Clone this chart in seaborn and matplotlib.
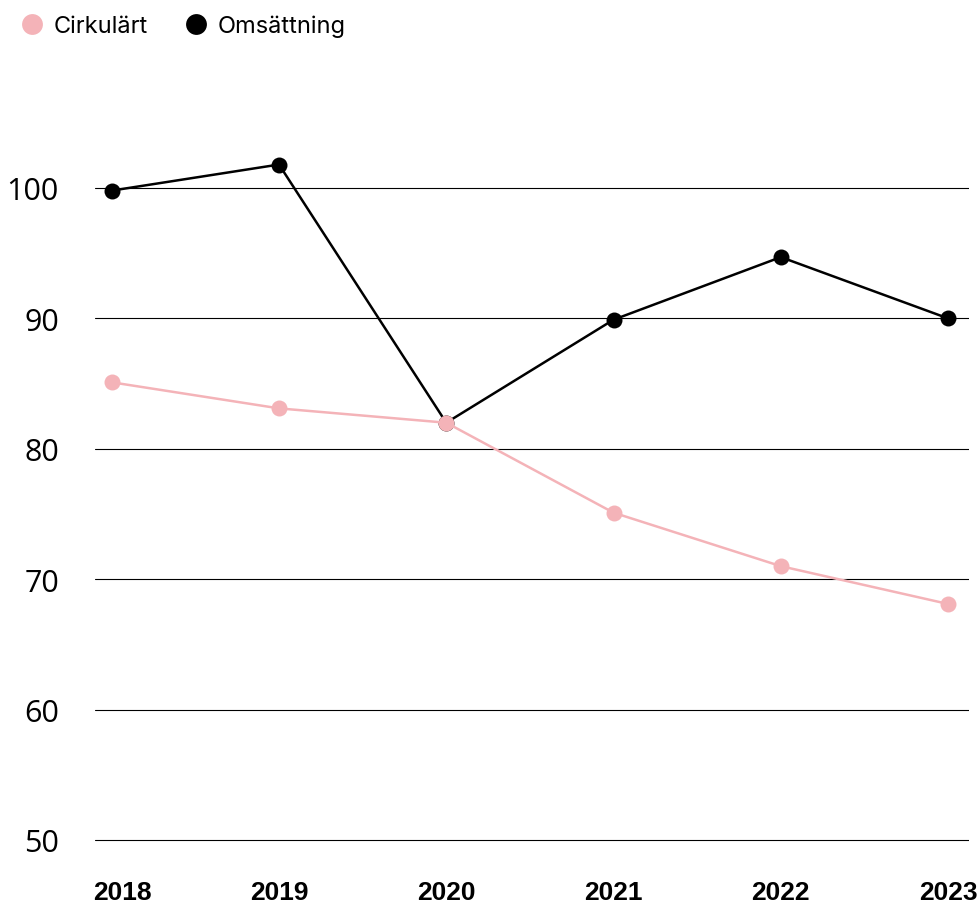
import matplotlib
matplotlib.use("Agg")
import matplotlib.pyplot as plt
import matplotlib.transforms as mtransforms
from matplotlib.lines import Line2D
import seaborn as sns
import pandas as pd

years = [2018, 2019, 2020, 2021, 2022, 2023]
cirkulart = [85.1, 83.1, 82.0, 75.1, 71.0, 68.1]
omsattning = [99.8, 101.8, 82.0, 89.9, 94.7, 90.0]
series_names = ["Cirkulärt", "Omsättning"]
colors = {"Cirkulärt": "#F4B3B8", "Omsättning": "#000000"}
yticks = [50, 60, 70, 80, 90, 100]

df = pd.DataFrame({
    "year": years * 2,
    "value": cirkulart + omsattning,
    "series": ["Cirkulärt"] * len(years) + ["Omsättning"] * len(years),
})

sns.set_theme(style="white")
plt.rcParams["font.family"] = ["Inter", "DejaVu Sans"]
plt.rcParams["text.color"] = "black"
plt.rcParams["xtick.color"] = "black"
plt.rcParams["ytick.color"] = "black"

px_per_unit = 13.04
y_lo, y_hi = 49.6, 105
bottom_px = 841 + (50 - y_lo) * px_per_unit
top_px = 189 - (y_hi - 100) * px_per_unit

fig = plt.figure(figsize=(9.78, 9.04), dpi=100)
ax = fig.add_axes([95 / 978, 1 - bottom_px / 904, (969 - 95) / 978, (bottom_px - top_px) / 904])

sns.lineplot(data=df, x="year", y="value", hue="series",
             hue_order=["Omsättning", "Cirkulärt"], palette=colors,
             marker="o", markersize=11.5, markeredgewidth=0,
             linewidth=1.8, legend=False, ax=ax, clip_on=False)

ax.set_xlim(2017.9, 2023.125)
ax.set_ylim(y_lo, y_hi)
ax.set_yticks(yticks)
ax.set_xticks(years)
ax.set_xticklabels([str(y) for y in years])
for s in ax.spines.values():
    s.set_visible(False)
ax.grid(axis="y", color="black", linewidth=0.8)
ax.grid(axis="x", visible=False)
ax.set_axisbelow(True)
ax.set_xlabel("")
ax.set_ylabel("")
ax.tick_params(axis="y", length=0, pad=26, labelsize=22)
ax.tick_params(axis="x", length=0, pad=25, labelsize=19)
for lab in ax.get_yticklabels():
    lab.set_family(["Open Sans", "DejaVu Sans"])
for lab in ax.get_xticklabels():
    lab.set_family(["Liberation Sans Narrow", "Liberation Sans", "DejaVu Sans"])
    lab.set_fontweight("bold")
first = ax.get_xticklabels()[0]
first.set_horizontalalignment("left")
first.set_transform(first.get_transform() + mtransforms.ScaledTranslation(-19 / 100, 0, fig.dpi_scale_trans))

handles = [Line2D([], [], linestyle="none", marker="o", markersize=15,
                  markerfacecolor=colors[n], markeredgewidth=0) for n in series_names]
fig.legend(handles, series_names, loc="upper left", bbox_to_anchor=(0.005, 0.998),
           ncol=2, frameon=False, fontsize=17, handletextpad=0.35,
           columnspacing=1.5, borderaxespad=0.2, handlelength=1.1)

fig.savefig("out.png", dpi=100)
